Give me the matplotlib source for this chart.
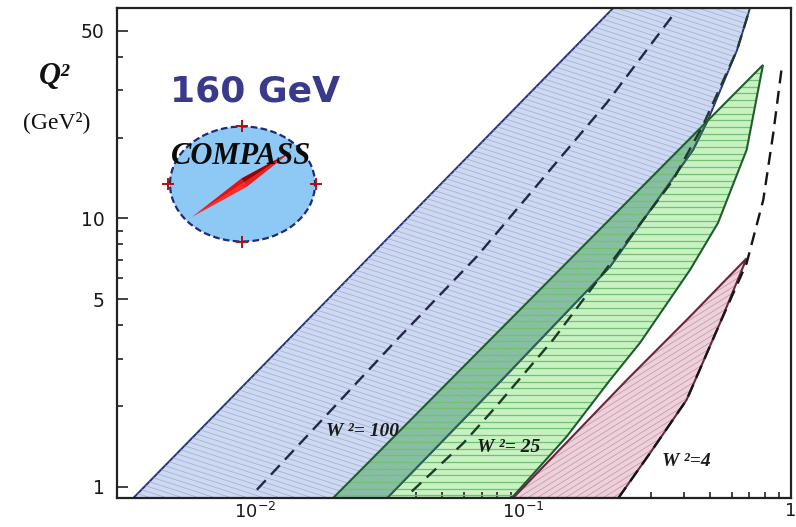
import numpy as np
import matplotlib
import matplotlib.pyplot as plt
from matplotlib.patches import Polygon, Ellipse
from matplotlib.collections import LineCollection
from matplotlib.lines import Line2D
from matplotlib.ticker import LogLocator, NullFormatter, FixedLocator, FixedFormatter

matplotlib.use("Agg")

# kinematic region boundaries (x, Q2)
blue_left_x = [0.00351, 0.217]
blue_left_q2 = [0.908, 60.8]
blue_right_x = [0.703, 0.629, 0.49, 0.431, 0.2112, 0.0833, 0.0311]
blue_right_q2 = [60.8, 42.4, 23.3, 18.0, 6.61, 2.50, 0.908]

green_left_x = [0.01954, 0.786]
green_left_q2 = [0.908, 37.3]
green_right_x = [0.786, 0.683, 0.534, 0.42, 0.2733, 0.2112, 0.1456, 0.0907]
green_right_q2 = [37.3, 18.0, 9.62, 6.43, 3.44, 2.50, 1.54, 0.908]

pink_left_x = [0.0918, 0.2438, 0.42, 0.683]
pink_left_q2 = [0.908, 2.50, 4.31, 7.1]
pink_right_x = [0.683, 0.543, 0.408, 0.2978, 0.2268]
pink_right_q2 = [7.1, 4.07, 2.11, 1.335, 0.908]

# constant W^2 curves (dashed)
w100_x = [0.01015, 0.03425, 0.0672, 0.205, 0.359]
w100_q2 = [0.975, 3.58, 7.21, 26.9, 56.4]
w25_x = [0.0384, 0.0599, 0.0786, 0.1294, 0.363, 0.47, 0.629, 0.703]
w25_q2 = [0.96, 1.455, 1.97, 3.53, 13.9, 22.3, 42.4, 60.8]
w4_x = [0.2268, 0.2978, 0.408, 0.543, 0.683, 0.788, 0.859, 0.923]
w4_q2 = [0.908, 1.335, 2.11, 4.07, 6.81, 11.72, 20.8, 36.3]

w_labels = ["W ²= 100", "W ²= 25", "W ²=4"]

x_ticks = [0.01, 0.1, 1]
x_ticklabels = [r"$10^{-2}$", r"$10^{-1}$", "1"]
y_ticks = [1, 5, 10, 50]
y_ticklabels = ["1", "5", "10", "50"]
y_minor = [2, 3, 4, 6, 7, 8, 9, 20, 30, 40]

FW, FH = 796, 527


def P(px, py):
    return px / FW, 1 - py / FH


def hatch(ax, patch, angle, spacing, color, lw, z):
    pos = ax.get_position()
    aw, ah = pos.width * FW, pos.height * FH
    t = np.radians(angle)
    d = np.array([np.cos(t), np.sin(t)])
    n = np.array([-np.sin(t), np.cos(t)])
    L = np.hypot(aw, ah)
    c = np.array([aw / 2, ah / 2])
    segs = []
    for k in np.arange(-L / 2, L / 2, spacing):
        p = c + n * k
        a, b = p - d * L, p + d * L
        segs.append([(a[0] / aw, a[1] / ah), (b[0] / aw, b[1] / ah)])
    lc = LineCollection(segs, colors=color, linewidths=lw,
                        transform=ax.transAxes, zorder=z)
    ax.add_collection(lc, autolim=False)
    lc.set_clip_path(patch)


fig = plt.figure(figsize=(FW / 100, FH / 100), dpi=100)
ax = fig.add_axes([117 / FW, 1 - 498 / FH, (791 - 117) / FW, (498 - 8) / FH])
ax.set_xscale("log")
ax.set_yscale("log")

blue_verts = list(zip(blue_left_x, blue_left_q2)) + list(zip(blue_right_x, blue_right_q2))
green_verts = list(zip(green_left_x, green_left_q2)) + list(zip(green_right_x[1:], green_right_q2[1:]))
pink_verts = list(zip(pink_left_x, pink_left_q2)) + list(zip(pink_right_x[1:], pink_right_q2[1:]))

green_bg = Polygon(green_verts, closed=True, facecolor="#c8f2c2", edgecolor="none", zorder=1)
ax.add_patch(green_bg)
blue = Polygon(blue_verts, closed=True, facecolor="#cdd9f2", edgecolor="#27327a", lw=1.4, zorder=2)
ax.add_patch(blue)
overlap = Polygon(green_verts, closed=True, facecolor="#55b466", alpha=0.62, edgecolor="none", zorder=3)
ax.add_patch(overlap)
overlap.set_clip_path(blue)

hatch(ax, blue, -18, 5, "#a4aecb", 0.55, 3.5)
hatch(ax, green_bg, 0, 6.7, "#74bf74", 0.9, 3.6)

# blue right edge where it runs under the green band shows teal
teal, = ax.plot(blue_right_x, blue_right_q2, color="#2c5f5c", lw=1.4, zorder=3.8)
teal.set_clip_path(green_bg)

green_edge = Polygon(green_verts, closed=True, facecolor="none", edgecolor="#1f5e2c", lw=1.5, zorder=4)
ax.add_patch(green_edge)

pink = Polygon(pink_verts, closed=True, facecolor="#edd0da", edgecolor="none", zorder=4)
ax.add_patch(pink)
hatch(ax, pink, 32, 5, "#bf9aa8", 0.55, 4.2)
pink_edge = Polygon(pink_verts, closed=True, facecolor="none", edgecolor="#6b2540", lw=1.5, zorder=4.3)
ax.add_patch(pink_edge)

ax.plot(w100_x, w100_q2, color="#23264a", lw=1.7, dashes=(5.5, 3.2), zorder=5)
ax.plot(w25_x, w25_q2, color="#1c3a26", lw=1.7, dashes=(5.5, 3.2), zorder=5)
ax.plot(w4_x, w4_q2, color="#151515", lw=1.7, dashes=(5.5, 3.2), zorder=5)

ax.set_xlim(0.00305, 1)
ax.set_ylim(0.908, 60.8)

ax.xaxis.set_major_locator(FixedLocator(x_ticks))
ax.xaxis.set_major_formatter(FixedFormatter(x_ticklabels))
ax.xaxis.set_minor_locator(LogLocator(base=10, subs=np.arange(2, 10)))
ax.xaxis.set_minor_formatter(NullFormatter())
ax.yaxis.set_major_locator(FixedLocator(y_ticks))
ax.yaxis.set_major_formatter(FixedFormatter(y_ticklabels))
ax.yaxis.set_minor_locator(FixedLocator(y_minor))
ax.yaxis.set_minor_formatter(NullFormatter())

ax.tick_params(which="both", direction="in", top=False, right=False,
               color="#333333", width=1.3, labelsize=13.5, labelcolor="#1a1a1a")
ax.tick_params(which="major", length=8)
ax.tick_params(which="minor", length=4)
ax.tick_params(axis="x", pad=3, labelsize=13)
ax.tick_params(axis="y", pad=9)
for s in ax.spines.values():
    s.set_linewidth(1.6)
    s.set_color("#222222")
    s.set_zorder(6)

# labels
lab_pos = [(362, 432), (509, 448), (686, 462)]
for txt, (px, py) in zip(w_labels, lab_pos):
    fig.text(*P(px, py), txt, ha="center", va="center", family="Liberation Serif",
             fontsize=14, fontweight="bold", fontstyle="italic", color="#1a1a1a", zorder=7)

fig.text(*P(54, 76), "Q²", ha="center", va="center", family="Liberation Serif",
         fontsize=22, fontweight="bold", fontstyle="italic", color="#111111")
fig.text(*P(57, 122), "(GeV²)", ha="center", va="center", family="Liberation Serif",
         fontsize=17, color="#111111")
fig.text(*P(255, 92), "160 GeV", ha="center", va="center", family="DejaVu Sans",
         fontsize=26, fontweight="bold", color="#3a3a8c")

# COMPASS logo
cx, cy = P(242.5, 184)
logo = Ellipse((cx, cy), 145 / FW, 115 / FH, transform=fig.transFigure,
               facecolor="#8ec9f5", edgecolor="#1f2a7a", lw=1.6,
               linestyle=(0, (3, 1.5)), zorder=8)
fig.add_artist(logo)

A = np.array([192, 217.0])
B = np.array([292, 151.0])
M = A + (B - A) * 0.52
u = (B - A) / np.hypot(*(B - A))
pv = np.array([-u[1], u[0]]) * 5
needle = [
    ([A, M, M + pv], "#ff2a2a"),
    ([A, M, M - pv], "#e81010"),
    ([B, M, M + pv], "#f01c1c"),
    ([B, M, M - pv], "#a00000"),
]
for pts, col in needle:
    fig.add_artist(Polygon([P(*q) for q in pts], closed=True, transform=fig.transFigure,
                           facecolor=col, edgecolor="none", zorder=9))

for px, py in [(242.5, 126), (242.5, 241.5), (168, 184), (316, 184)]:
    fig.add_artist(Line2D([P(px, py)[0]], [P(px, py)[1]], transform=fig.transFigure,
                          marker="+", markersize=8, markeredgewidth=1.4,
                          color="#b01010", zorder=10))

fig.text(*P(241, 157), "COMPASS", ha="center", va="center", family="Liberation Serif",
         fontsize=22, fontweight="bold", fontstyle="italic", color="#0a0a0a", zorder=11)

plt.savefig("out.png", dpi=100)
plt.close()
